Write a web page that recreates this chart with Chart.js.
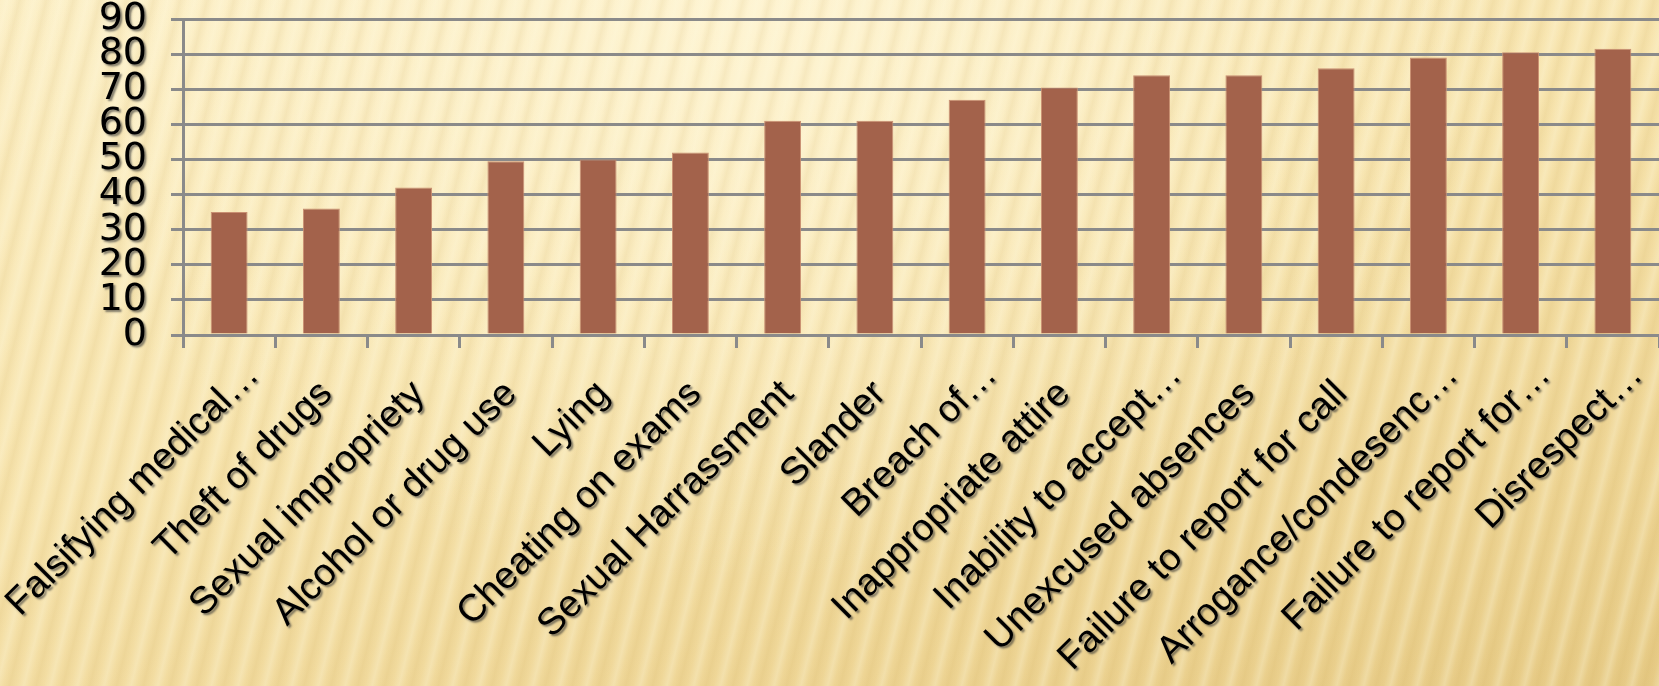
<!DOCTYPE html>
<html>
<head>
<meta charset="utf-8">
<script src="https://cdn.jsdelivr.net/npm/chart.js"></script>
<style>
    html, body {
        margin: 0;
        padding: 0;
        width: 1659px;
        height: 686px;
        overflow: hidden;
    }
    body {
        background:
            repeating-linear-gradient(104deg,
                rgba(255, 255, 255, 0) 0px,
                rgba(255, 250, 225, 0.28) 7px,
                rgba(255, 255, 255, 0) 13px,
                rgba(190, 150, 60, 0.10) 19px,
                rgba(255, 255, 255, 0) 26px),
            radial-gradient(ellipse at 45% 0%, rgba(255, 246, 215, 0.8) 0%, rgba(255, 246, 215, 0) 60%),
            linear-gradient(165deg, #fcefc6 0%, #f7e4ae 45%, #eed595 80%, #e6ca85 100%);
    }
    #grafico {
        display: block;
    }
</style>
</head>
<body>
<canvas id="grafico" width="1659" height="686"></canvas>
<script>
const categorias = [
    'Falsifying medical…',
    'Theft of drugs',
    'Sexual impropriety',
    'Alcohol or drug use',
    'Lying',
    'Cheating on exams',
    'Sexual Harrassment',
    'Slander',
    'Breach of…',
    'Inappropriate attire',
    'Inability to accept…',
    'Unexcused absences',
    'Failure to report for call',
    'Arrogance/condesenc…',
    'Failure to report for…',
    'Disrespect…'
];
const valores = [35, 36, 42, 49.5, 50, 52, 61, 61, 67, 70.5, 74, 74, 76, 79, 80.5, 81.5];
const escalaY = [0, 90, 10]; // min, max, passo

const corBarra = '#a3624b';
const corGrade = '#8a8a8a';

// sombra cinza atrás dos textos dos eixos (desenhados depois das barras, z = 1)
const sombraTexto = {
    id: 'sombraTexto',
    afterDatasetsDraw(chart) {
        const ctx = chart.ctx;
        ctx.save();
        ctx.shadowColor = 'rgba(50, 50, 50, 0.6)';
        ctx.shadowOffsetX = 2;
        ctx.shadowOffsetY = 2;
        ctx.shadowBlur = 2;
    },
    afterDraw(chart) {
        chart.ctx.restore();
    }
};

const context = document.getElementById('grafico').getContext('2d');
const chartInstance = new Chart(context, {
    type: 'bar',
    data: {
        labels: categorias,
        datasets: [{
            data: valores,
            backgroundColor: corBarra,
            borderColor: '#c98f72',
            borderWidth: 1,
            categoryPercentage: 1.0,
            barPercentage: 0.4
        }]
    },
    options: {
        responsive: false,
        animation: false,
        events: [],
        layout: {
            padding: { top: 19, right: 0, bottom: 0, left: 0 }
        },
        plugins: {
            legend: { display: false },
            tooltip: { enabled: false }
        },
        scales: {
            x: {
                grid: {
                    drawOnChartArea: false,
                    drawTicks: true,
                    tickLength: 13,
                    color: corGrade,
                    lineWidth: 3
                },
                border: { color: corGrade, width: 3 },
                ticks: {
                    z: 1,
                    autoSkip: false,
                    maxRotation: 45,
                    minRotation: 45,
                    padding: 5,
                    labelOffset: 24,
                    color: '#000',
                    font: { family: '"Liberation Sans", Arial, sans-serif', size: 38 },
                    // rótulos inteiros ficam um pouco recuados em relação aos cortados com "…"
                    callback: function(valor, i) {
                        const texto = categorias[i];
                        return texto.endsWith('…') ? texto : texto + '\u2002\u2009';
                    }
                },
                afterFit(scale) {
                    scale.height = 351;
                    scale.paddingLeft = 0;
                    scale.paddingRight = 0;
                }
            },
            y: {
                min: escalaY[0],
                max: escalaY[1],
                grid: {
                    color: corGrade,
                    lineWidth: 3,
                    tickLength: 12
                },
                border: { color: corGrade, width: 3 },
                ticks: {
                    z: 1,
                    stepSize: escalaY[2],
                    autoSkip: false,
                    padding: 24,
                    color: '#000',
                    font: { family: '"DejaVu Sans", sans-serif', size: 38 }
                },
                afterFit(scale) {
                    scale.width = 183;
                    scale.paddingTop = 0;
                    scale.paddingBottom = 0;
                }
            }
        }
    },
    plugins: [sombraTexto]
});
</script>
</body>
</html>
